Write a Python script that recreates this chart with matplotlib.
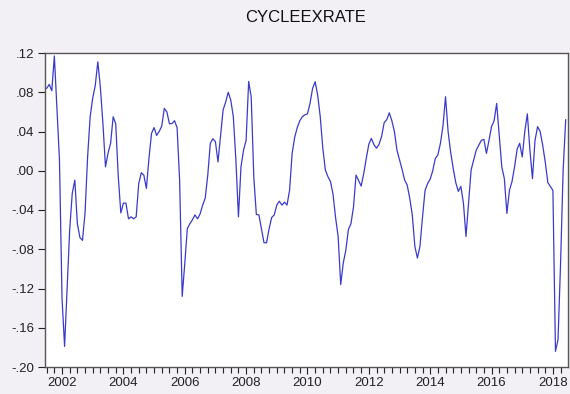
import numpy as np
import matplotlib
matplotlib.use("Agg")
import matplotlib.pyplot as plt
from matplotlib.ticker import FixedLocator, MultipleLocator

# Monthly series, 2001M07 .. 2018M06
start_year = 2001
start_month = 7
cycle = [
    0.084, 0.088, 0.0815, 0.117, 0.065, 0.011, -0.130, -0.179, -0.120, -0.060,
    -0.023, -0.0095, -0.054, -0.068, -0.071, -0.043, 0.014, 0.055, 0.074, 0.087,
    0.111, 0.085, 0.048, 0.004, 0.018, 0.028, 0.055, 0.048, -0.006, -0.043,
    -0.033, -0.033, -0.049, -0.047, -0.049, -0.047, -0.013, -0.002, -0.0045, -0.018,
    0.0126, 0.038, 0.044, 0.036, 0.040, 0.0455, 0.0635, 0.060, 0.048, 0.048,
    0.051, 0.044, -0.010, -0.128, -0.095, -0.059, -0.054, -0.050, -0.045, -0.049,
    -0.044, -0.035, -0.028, -0.0045, 0.028, 0.0326, 0.0296, 0.009, 0.036, 0.062,
    0.070, 0.080, 0.072, 0.055, 0.011, -0.047, 0.004, 0.021, 0.031, 0.091,
    0.075, -0.006, -0.0445, -0.045, -0.059, -0.0734, -0.0734, -0.059, -0.0476, -0.045,
    -0.035, -0.031, -0.035, -0.032, -0.035, -0.020, 0.0177, 0.034, 0.044, 0.051,
    0.055, 0.057, 0.058, 0.0686, 0.0839, 0.0907, 0.077, 0.055, 0.023, 0.0007,
    -0.006, -0.011, -0.024, -0.048, -0.067, -0.116, -0.094, -0.081, -0.060, -0.054,
    -0.037, -0.0044, -0.010, -0.0156, -0.003, 0.0126, 0.027, 0.033, 0.0265, 0.023,
    0.027, 0.035, 0.049, 0.052, 0.059, 0.051, 0.040, 0.021, 0.011, 0.0014,
    -0.0095, -0.0146, -0.028, -0.045, -0.077, -0.089, -0.077, -0.047, -0.020, -0.013,
    -0.0085, 0.000, 0.0126, 0.016, 0.028, 0.0455, 0.0754, 0.040, 0.019, 0.0024,
    -0.012, -0.021, -0.016, -0.033, -0.067, -0.033, 0.0007, 0.011, 0.021, 0.026,
    0.031, 0.032, 0.0177, 0.031, 0.045, 0.051, 0.0686, 0.036, 0.004, -0.008,
    -0.0435, -0.020, -0.011, 0.004, 0.022, 0.028, 0.014, 0.040, 0.058, 0.021,
    -0.008, 0.031, 0.045, 0.040, 0.026, 0.009, -0.012, -0.016, -0.020, -0.184,
    -0.172, -0.094, 0.0007, 0.052,
]

year_ticks = [2002, 2004, 2006, 2008, 2010, 2012, 2014, 2016, 2018]
year_labels = [str(y) for y in year_ticks]
y_ticks = [0.12, 0.08, 0.04, 0.00, -0.04, -0.08, -0.12, -0.16, -0.20]
y_labels = [".12", ".08", ".04", ".00", "-.04", "-.08", "-.12", "-.16", "-.20"]
title = "CYCLEEXRATE"

plt.rcParams['font.family'] = ['Liberation Sans', 'DejaVu Sans']

t = start_year + (start_month - 1) / 12 + np.arange(len(cycle)) / 12.0

fig = plt.figure(figsize=(5.7, 3.94), dpi=100)
fig.patch.set_facecolor('#f2f0f5')
ax = fig.add_axes([45 / 570, 1 - 367 / 394, (568 - 45) / 570, (367 - 53) / 394])
ax.set_facecolor('white')

ax.plot(t, cycle, color='#3a3acb', linewidth=0.9)

ax.set_xlim(t[0] - 0.055, t[-1] + 0.075)
ax.set_ylim(-0.20, 0.12)

ax.xaxis.set_major_locator(FixedLocator(year_ticks))
ax.set_xticklabels(year_labels, fontsize=9.5)
ax.xaxis.set_minor_locator(MultipleLocator(0.25))
ax.yaxis.set_major_locator(FixedLocator(y_ticks))
ax.set_yticklabels(y_labels, fontsize=9.5)

ax.tick_params(axis='x', which='major', direction='out', length=5, width=0.8, pad=2, colors='#222222')
ax.tick_params(axis='x', which='minor', direction='out', length=4, width=0.8, colors='#222222')
ax.tick_params(axis='y', which='major', direction='out', length=5, width=0.8, pad=3, colors='#222222')

for s in ax.spines.values():
    s.set_color('#555555')
    s.set_linewidth(1.0)

fig.text(306 / 570, 1 - 18 / 394, title, ha='center', va='center', fontsize=12, color='#111111')

fig.savefig('out.png', dpi=100, facecolor=fig.get_facecolor())
